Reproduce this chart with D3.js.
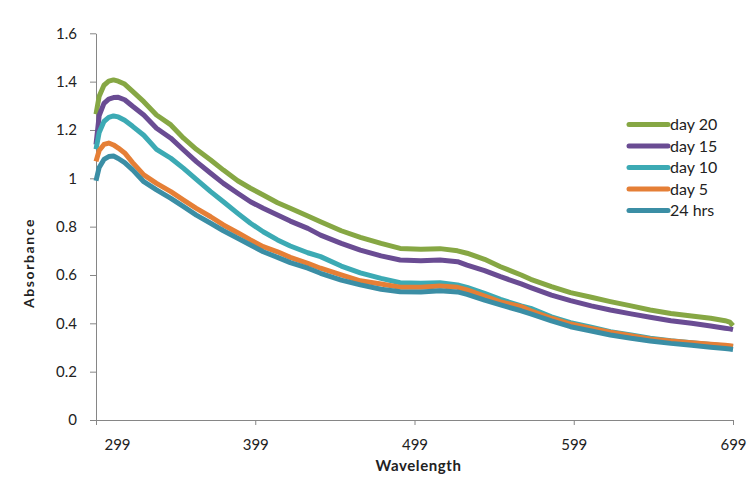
<!DOCTYPE html>
<html>
<head>
<meta charset="utf-8">
<script src="https://cdn.jsdelivr.net/npm/d3@7"></script>
<style>
  body { margin: 0; background: #fff; }
  #graf { width: 750px; height: 483px; }
  .eje path, .eje line { stroke: #868686; }
  .eje text { font-family: Lato, 'Open Sans', sans-serif; font-size: 15px; fill: #222; }
</style>
</head>
<body>
<div id="graf"></div>
<script>
// I. Datos
wavelengths = [299, 301, 304, 307, 310, 313, 317, 322, 329, 337, 346, 354, 362, 371, 379, 388, 396, 404, 413, 421, 432,
               440, 453, 465, 478, 490, 503, 515, 526, 532, 543, 553, 566,
               572, 585, 597, 610, 622, 635, 647, 660, 673, 685, 694, 697, 699]

day20 = [1.265, 1.34, 1.385, 1.402, 1.407, 1.402, 1.39, 1.36, 1.317, 1.262, 1.221, 1.166, 1.12, 1.076, 1.034, 0.99, 0.959, 0.931, 0.899, 0.876, 0.844,
         0.820, 0.783, 0.756, 0.731, 0.710, 0.706, 0.709, 0.700, 0.690, 0.665, 0.634, 0.600,
         0.582, 0.552, 0.527, 0.508, 0.490, 0.472, 0.455, 0.441, 0.430, 0.421, 0.411, 0.405, 0.39]
day15 = [1.14, 1.26, 1.31, 1.328, 1.334, 1.335, 1.325, 1.298, 1.262, 1.207, 1.166, 1.117, 1.069, 1.021, 0.979, 0.938, 0.903, 0.876, 0.848, 0.823, 0.793,
         0.765, 0.731, 0.703, 0.679, 0.662, 0.659, 0.662, 0.655, 0.641, 0.618, 0.593, 0.563,
         0.548, 0.517, 0.494, 0.472, 0.455, 0.439, 0.425, 0.411, 0.400, 0.389, 0.38, 0.377, 0.374]
day10 = [1.12, 1.19, 1.235, 1.252, 1.258, 1.254, 1.24, 1.215, 1.178, 1.12, 1.083, 1.041, 0.996, 0.945, 0.903, 0.855, 0.814, 0.779, 0.745, 0.720, 0.692,
         0.676, 0.637, 0.609, 0.586, 0.568, 0.566, 0.568, 0.559, 0.549, 0.524, 0.499, 0.472,
         0.462, 0.427, 0.403, 0.384, 0.365, 0.352, 0.338, 0.328, 0.320, 0.312, 0.306, 0.304, 0.302]
day5 = [1.07, 1.115, 1.14, 1.146, 1.138, 1.125, 1.105, 1.065, 1.014, 0.979, 0.945, 0.910, 0.876, 0.841, 0.807, 0.775, 0.745, 0.717, 0.696, 0.673, 0.648,
        0.628, 0.600, 0.576, 0.563, 0.549, 0.549, 0.554, 0.549, 0.538, 0.513, 0.489, 0.469,
        0.452, 0.421, 0.397, 0.379, 0.363, 0.349, 0.335, 0.327, 0.320, 0.313, 0.309, 0.307, 0.305]
hrs24 = [0.99, 1.045, 1.078, 1.09, 1.092, 1.082, 1.065, 1.035, 0.986, 0.952, 0.917, 0.883, 0.848, 0.814, 0.783, 0.752, 0.724, 0.696, 0.673, 0.651, 0.628,
         0.607, 0.579, 0.559, 0.541, 0.531, 0.530, 0.535, 0.530, 0.520, 0.496, 0.476, 0.452,
         0.439, 0.410, 0.386, 0.368, 0.352, 0.338, 0.327, 0.317, 0.309, 0.301, 0.296, 0.294, 0.292]

seriesNames = ['day 20', 'day 15', 'day 10', 'day 5', '24 hrs']
seriesValues = [day20, day15, day10, day5, hrs24]
colores = ['#86A744', '#6A4C93', '#3CAAB4', '#E57F36', '#3B8EA5']

xTicks = [299, 399, 499, 599, 699]
yTicks = [0, 0.2, 0.4, 0.6, 0.8, 1, 1.2, 1.4, 1.6]

// II. Configuración
ancho_total = 750
alto_total = 483
margins = { top: 33.3, left: 96, right: 17, bottom: 63 }
ancho = ancho_total - margins.left - margins.right
alto = alto_total - margins.top - margins.bottom

svg = d3.select('#graf').append('svg')
        .attr('width', ancho_total)
        .attr('height', alto_total)

g = svg.append('g')
       .attr('transform', `translate(${ margins.left }, ${ margins.top })`)

x = d3.scaleLinear().domain([299, 699]).range([0, ancho])
y = d3.scaleLinear().domain([0, 1.6]).range([alto, 0])

// III. Ejes
yAxisGroup = g.append('g').attr('class', 'eje')
yAxisGroup.call(d3.axisLeft(y)
                  .tickValues(yTicks)
                  .tickSize(6)
                  .tickSizeOuter(0)
                  .tickFormat(d => +d.toFixed(1) + ''))
yAxisGroup.selectAll('text').attr('x', -19)

xAxisGroup = g.append('g')
              .attr('class', 'eje')
              .attr('transform', `translate(0, ${ alto })`)
xAxisGroup.call(d3.axisBottom(x)
                  .tickValues(xTicks)
                  .tickSize(5)
                  .tickSizeOuter(0)
                  .tickFormat(d => d + ''))
xAxisGroup.selectAll('text').attr('y', 19)
// Excel empuja la primera etiqueta hacia la derecha
xAxisGroup.select('.tick text').attr('dx', 21)

svg.append('text')
   .attr('transform', `translate(34, 263) rotate(-90)`)
   .attr('text-anchor', 'middle')
   .style('font-family', 'Lato, sans-serif')
   .style('font-size', '14px')
   .style('font-weight', 'bold')
   .style('letter-spacing', '1.6px')
   .style('fill', '#222')
   .text('Absorbance')

svg.append('text')
   .attr('x', margins.left + ancho / 2 + 4)
   .attr('y', 471)
   .attr('text-anchor', 'middle')
   .style('font-family', 'Lato, sans-serif')
   .style('font-size', '15px')
   .style('font-weight', 'bold')
   .style('letter-spacing', '0.6px')
   .style('fill', '#222')
   .text('Wavelength')

// IV. Líneas
line = d3.line()
         .x((d, i) => x(wavelengths[i]))
         .y(d => y(d))

g.selectAll('.serie')
 .data(seriesValues)
 .enter()
 .append('path')
   .attr('class', 'serie')
   .attr('d', d => line(d))
   .style('fill', 'none')
   .style('stroke', (d, i) => colores[i])
   .style('stroke-width', 5)
   .style('stroke-linejoin', 'round')

// V. Leyenda
leyenda = svg.append('g')
             .attr('transform', 'translate(629, 124.5)')

items = leyenda.selectAll('g')
               .data(seriesNames)
               .enter()
               .append('g')
                 .attr('transform', (d, i) => `translate(0, ${ i * 21.5 })`)

items.append('line')
     .attr('x1', 0).attr('x2', 39)
     .style('stroke', (d, i) => colores[i])
     .style('stroke-width', 5)
     .style('stroke-linecap', 'round')

items.append('text')
     .attr('x', 41)
     .attr('dy', '0.35em')
     .style('font-family', 'Lato, sans-serif')
     .style('font-size', '16px')
     .style('fill', '#222')
     .text(d => d)
</script>
</body>
</html>
